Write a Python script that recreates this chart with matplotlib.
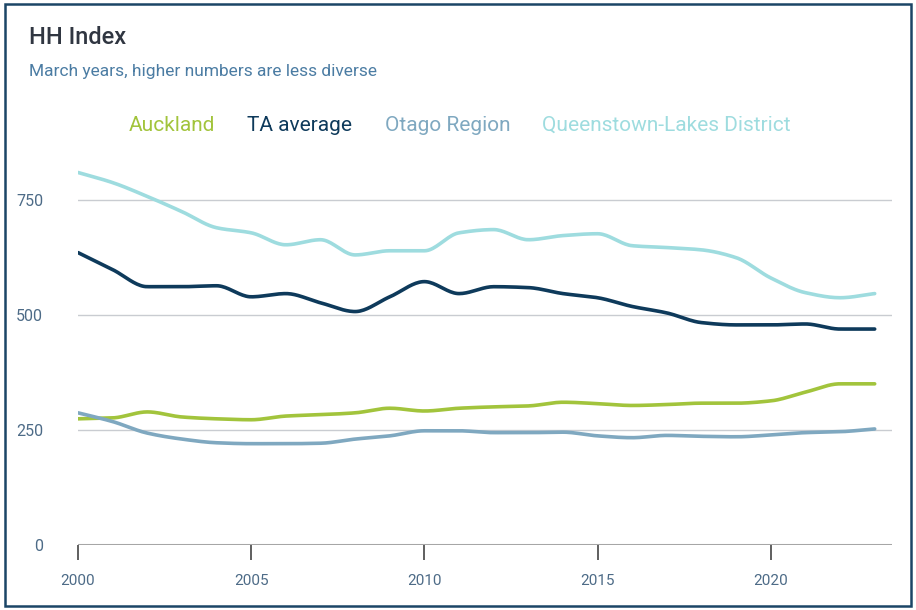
import numpy as np
import matplotlib
matplotlib.use("Agg")
import matplotlib.pyplot as plt
from matplotlib.patches import Rectangle

plt.rcParams['font.family'] = ['Roboto', 'DejaVu Sans']

# data (March years)
years = list(range(2000, 2024))
auckland = [274, 276, 289, 278, 274, 272, 280, 283, 287, 297, 291, 297,
            300, 302, 310, 307, 303, 305, 308, 308, 313, 332, 350, 350]
ta_average = [635, 598, 561, 561, 563, 539, 546, 526, 507, 539, 572, 546,
              561, 559, 546, 537, 518, 504, 483, 478, 478, 480, 469, 469]
otago = [287, 268, 243, 230, 222, 220, 220, 221, 230, 237, 248, 248,
         244, 244, 245, 237, 233, 238, 236, 235, 239, 244, 246, 252]
queenstown = [809, 787, 757, 724, 689, 678, 652, 663, 630, 639, 639, 678,
              685, 663, 672, 676, 650, 646, 641, 624, 580, 548, 537, 546]

series_names = ["Auckland", "TA average", "Otago Region", "Queenstown-Lakes District"]
series_values = [auckland, ta_average, otago, queenstown]
colors = ["#a2c43c", "#0e3a5b", "#7fa8c0", "#9edcdf"]
y_ticks = [0, 250, 500, 750]
x_ticks = [2000, 2005, 2010, 2015, 2020]


def smooth(x, y, n=20):
    # monotone cubic (Fritsch-Carlson), only for drawing the curve
    x = np.asarray(x, float)
    y = np.asarray(y, float)
    h = np.diff(x)
    d = np.diff(y) / h
    m = np.zeros_like(y)
    m[0], m[-1] = d[0], d[-1]
    for i in range(1, len(y) - 1):
        if d[i - 1] * d[i] <= 0:
            m[i] = 0
        else:
            m[i] = 2 / (1 / d[i - 1] + 1 / d[i])
    xs, ys = [], []
    for i in range(len(x) - 1):
        t = np.linspace(0, 1, n, endpoint=False)
        h00 = 2 * t**3 - 3 * t**2 + 1
        h10 = t**3 - 2 * t**2 + t
        h01 = -2 * t**3 + 3 * t**2
        h11 = t**3 - t**2
        xs.append(x[i] + t * h[i])
        ys.append(h00 * y[i] + h10 * h[i] * m[i] + h01 * y[i + 1] + h11 * h[i] * m[i + 1])
    xs.append([x[-1]])
    ys.append([y[-1]])
    return np.concatenate(xs), np.concatenate(ys)


fig = plt.figure(figsize=(9.16, 6.10), dpi=100)
fig.patch.set_facecolor("white")

# outer frame
fig.patches.append(Rectangle((0.006, 0.006), 0.989, 0.988, transform=fig.transFigure,
                             fill=False, edgecolor="#1b4566", linewidth=1.8))

ax = fig.add_axes([0.0852, 0.1066, 0.8886, 0.634])

for name, vals, c in zip(series_names, series_values, colors):
    sx, sy = smooth(years, vals)
    ax.plot(sx, sy, color=c, linewidth=2.6, label=name, solid_capstyle="round")

ax.set_xlim(2000, 2023.5)
ax.set_ylim(0, 840)
ax.set_yticks(y_ticks)
ax.set_xticks(x_ticks)
ax.set_yticklabels([str(v) for v in y_ticks])
ax.set_xticklabels([str(v) for v in x_ticks])

for v in y_ticks[1:]:
    ax.axhline(v, color="#c9ccd1", linewidth=1.0, zorder=0)
ax.axhline(0, color="#a6a6a6", linewidth=2.2, zorder=1)

for s in ax.spines.values():
    s.set_visible(False)

ax.tick_params(axis="y", length=0, pad=25, labelsize=11.5, labelcolor="#4d6b87")
ax.tick_params(axis="x", length=11, width=1.2, color="#444444", pad=10,
               labelsize=11, labelcolor="#4d6b87")

fig.text(0.032, 0.938, "HH Index", fontsize=17, fontweight="medium", color="#303641",
         ha="left", va="center")
fig.text(0.032, 0.883, "March years, higher numbers are less diverse", fontsize=12.5,
         color="#4b7ca3", ha="left", va="center")

leg = ax.legend(loc="center", bbox_to_anchor=(0.502, 0.795), bbox_transform=fig.transFigure,
                ncol=4, frameon=False, handlelength=0, handletextpad=0,
                columnspacing=1.55, fontsize=15)
for txt, c in zip(leg.get_texts(), colors):
    txt.set_color(c)
for h in leg.legend_handles:
    h.set_visible(False)

fig.savefig("out.png", dpi=100)
